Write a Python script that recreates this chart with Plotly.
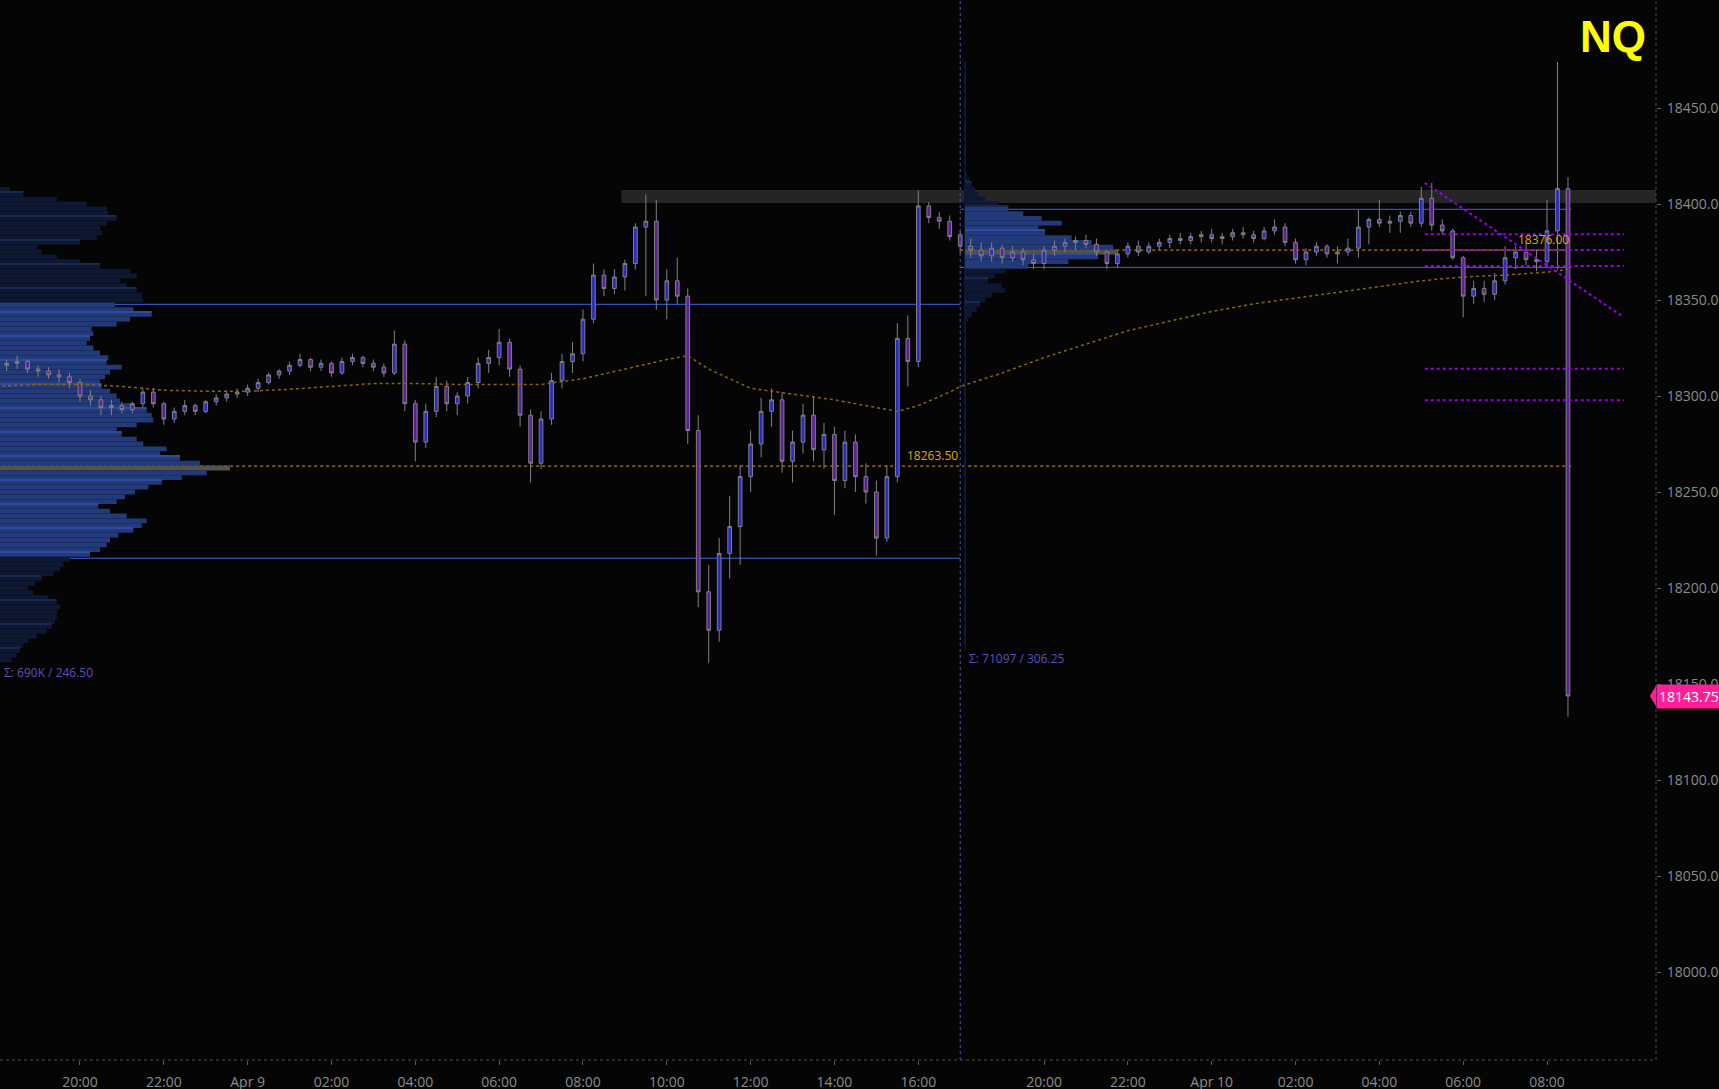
import pandas as pd
import plotly.graph_objects as go

# ---- 15 minute NQ bars ----
# session 1: Apr 8 18:00 -> Apr 9 16:45, session 2: Apr 9 18:00 -> Apr 10 08:30
s1_open = [18318, 18316, 18317, 18318, 18314, 18313, 18311, 18310,
           18307, 18300, 18298, 18294, 18295, 18293, 18296, 18302,
           18296, 18288, 18292, 18295, 18292, 18297, 18299, 18301,
           18302, 18304, 18307, 18311, 18313, 18316, 18319, 18315,
           18317, 18312, 18318, 18320, 18317, 18315, 18312, 18327,
           18296, 18276, 18292, 18305, 18296, 18300, 18307, 18317,
           18320, 18328, 18314, 18290, 18265, 18288, 18308, 18318,
           18322, 18340, 18363, 18356, 18362, 18369, 18388, 18391,
           18350, 18360, 18352, 18282, 18198, 18178, 18218, 18232,
           18258, 18275, 18292, 18298, 18266, 18276, 18290, 18272,
           18280, 18256, 18276, 18258, 18250, 18226, 18258, 18330,
           18318, 18399, 18393, 18391]
s1_high = [18320, 18319, 18321, 18319, 18316, 18315, 18314, 18312,
           18309, 18303, 18300, 18298, 18297, 18297, 18304, 18304,
           18297, 18294, 18298, 18296, 18298, 18301, 18303, 18304,
           18306, 18309, 18312, 18314, 18318, 18322, 18320, 18319,
           18318, 18320, 18322, 18321, 18319, 18317, 18334, 18329,
           18298, 18296, 18310, 18308, 18302, 18310, 18320, 18324,
           18335, 18330, 18316, 18293, 18292, 18312, 18322, 18328,
           18345, 18369, 18366, 18366, 18371, 18390, 18405, 18402,
           18366, 18372, 18356, 18290, 18212, 18226, 18248, 18264,
           18282, 18299, 18304, 18302, 18282, 18296, 18300, 18286,
           18284, 18282, 18280, 18265, 18256, 18264, 18338, 18342,
           18407, 18401, 18396, 18394]
s1_low = [18313, 18313, 18314, 18312, 18310, 18309, 18307, 18304,
          18297, 18295, 18290, 18290, 18291, 18291, 18294, 18294,
          18285, 18286, 18290, 18290, 18291, 18295, 18297, 18299,
          18300, 18302, 18306, 18309, 18311, 18315, 18313, 18313,
          18310, 18311, 18316, 18315, 18313, 18310, 18311, 18292,
          18266, 18273, 18289, 18292, 18290, 18296, 18304, 18312,
          18316, 18310, 18284, 18255, 18262, 18285, 18304, 18312,
          18318, 18338, 18352, 18353, 18355, 18366, 18352, 18345,
          18340, 18348, 18275, 18190, 18161, 18172, 18205, 18212,
          18250, 18268, 18284, 18260, 18255, 18270, 18266, 18262,
          18238, 18252, 18250, 18244, 18217, 18224, 18255, 18305,
          18315, 18390, 18387, 18381]
s1_close = [18316, 18317, 18318, 18314, 18313, 18311, 18310, 18307,
            18300, 18298, 18294, 18295, 18293, 18296, 18302, 18296,
            18288, 18292, 18295, 18292, 18297, 18299, 18301, 18302,
            18304, 18307, 18311, 18313, 18316, 18319, 18315, 18317,
            18312, 18318, 18320, 18317, 18315, 18312, 18327, 18296,
            18276, 18292, 18305, 18296, 18300, 18307, 18317, 18320,
            18328, 18314, 18290, 18265, 18288, 18308, 18318, 18322,
            18340, 18363, 18356, 18362, 18369, 18388, 18391, 18350,
            18360, 18352, 18282, 18198, 18178, 18218, 18232, 18258,
            18275, 18292, 18298, 18266, 18276, 18290, 18272, 18280,
            18256, 18276, 18258, 18250, 18226, 18258, 18330, 18318,
            18399, 18393, 18391, 18383]

s2_open = [18384, 18378, 18376, 18373, 18377, 18372, 18375, 18371,
           18369, 18376, 18378, 18380, 18381, 18379, 18375, 18369,
           18374, 18378, 18375, 18378, 18380, 18382, 18381, 18383,
           18384, 18382, 18383, 18385, 18384, 18382, 18386, 18388,
           18380, 18371, 18375, 18378, 18374, 18375, 18377, 18388,
           18392, 18390, 18391, 18394, 18390, 18403, 18389, 18386,
           18372, 18352, 18356, 18353, 18360, 18372, 18375, 18371,
           18370, 18386, 18408]
s2_high = [18386, 18382, 18380, 18380, 18379, 18378, 18377, 18374,
           18378, 18381, 18382, 18383, 18384, 18382, 18376, 18376,
           18380, 18381, 18380, 18382, 18384, 18385, 18385, 18386,
           18387, 18385, 18387, 18388, 18386, 18388, 18392, 18390,
           18382, 18377, 18380, 18379, 18378, 18382, 18397, 18393,
           18402, 18394, 18396, 18396, 18409, 18411, 18392, 18387,
           18373, 18360, 18360, 18364, 18378, 18378, 18380, 18376,
           18402, 18474, 18414]
s2_low = [18374, 18372, 18370, 18370, 18369, 18370, 18368, 18366,
          18366, 18373, 18375, 18376, 18377, 18373, 18366, 18367,
          18372, 18373, 18374, 18376, 18377, 18379, 18379, 18380,
          18380, 18379, 18381, 18382, 18380, 18381, 18384, 18378,
          18369, 18368, 18373, 18372, 18369, 18373, 18372, 18379,
          18388, 18385, 18385, 18388, 18388, 18386, 18384, 18371,
          18341, 18348, 18349, 18350, 18358, 18366, 18368, 18365,
          18368, 18366, 18133]
s2_close = [18378, 18376, 18373, 18377, 18372, 18375, 18371, 18369,
            18376, 18378, 18380, 18381, 18379, 18375, 18369, 18374,
            18378, 18375, 18378, 18380, 18382, 18381, 18383, 18384,
            18382, 18383, 18385, 18384, 18382, 18386, 18388, 18380,
            18371, 18375, 18378, 18374, 18375, 18377, 18388, 18392,
            18390, 18391, 18394, 18390, 18403, 18389, 18386, 18372,
            18352, 18356, 18353, 18360, 18372, 18375, 18371, 18370,
            18386, 18408, 18143.75]

# moving average (gold line)
ma_times = ["2024-04-08 18:00", "2024-04-08 19:00", "2024-04-08 20:00", "2024-04-08 21:00",
            "2024-04-08 22:00", "2024-04-08 23:00", "2024-04-09 00:00", "2024-04-09 01:00",
            "2024-04-09 02:00", "2024-04-09 03:00", "2024-04-09 04:00", "2024-04-09 05:00",
            "2024-04-09 06:00", "2024-04-09 07:00", "2024-04-09 08:00", "2024-04-09 09:00",
            "2024-04-09 10:00", "2024-04-09 10:30", "2024-04-09 11:00", "2024-04-09 12:00",
            "2024-04-09 13:00", "2024-04-09 14:00", "2024-04-09 15:00", "2024-04-09 15:30",
            "2024-04-09 16:00", "2024-04-09 16:45", "2024-04-09 18:00", "2024-04-09 19:00",
            "2024-04-09 20:00", "2024-04-09 21:00", "2024-04-09 22:00", "2024-04-09 23:00",
            "2024-04-10 00:00", "2024-04-10 01:00", "2024-04-10 02:00", "2024-04-10 03:00",
            "2024-04-10 04:00", "2024-04-10 05:00", "2024-04-10 06:00", "2024-04-10 07:00",
            "2024-04-10 08:00", "2024-04-10 08:30"]
ma_values = [18305, 18306, 18306, 18305, 18303, 18302.5, 18302.5, 18303.5,
             18305, 18306.5, 18306.5, 18306, 18306, 18306, 18309, 18314,
             18319, 18321, 18314, 18304, 18301, 18298, 18294, 18292,
             18295, 18302, 18305, 18312, 18320, 18327, 18334, 18339,
             18344, 18348, 18351, 18354, 18357, 18360, 18362, 18363,
             18364.5, 18366]

# volume profile, session 1 (2.5 pt rows from 18407.5 down)
left_top = 18407.5
left_vol = [660, 1540, 3740, 5720, 7040, 7150, 7700, 7040, 6600, 6710,
            6380, 5280, 2420, 2750, 3740, 5280, 6600, 8580, 9020, 7920,
            8360, 9020, 9350, 9460, 7590, 8800, 10010, 8580, 7700, 6050,
            6160, 5940, 5720, 6160, 6600, 7150, 7040, 8030, 7260, 6930,
            6600, 6710, 7260, 7700, 7920, 8800, 9680, 10010, 10120, 9020,
            7700, 8030, 9020, 9460, 11000, 10560, 11880, 13200, 15180, 13640,
            11990, 10670, 9790, 8910, 8250, 7700, 6490, 7260, 8360, 9680,
            9350, 8800, 7810, 7260, 7040, 6600, 5940, 4620, 4180, 3960,
            3520, 2750, 2310, 1870, 2200, 3190, 3740, 3960, 3780, 3740,
            3630, 3410, 3080, 2420, 1870, 1540, 1320, 1100, 770]
left_vah, left_poc, left_val = 18347.75, 18263.50, 18215.50

# volume profile, session 2 (2.5 pt rows from 18415 down)
right_top = 18415.0
right_vol = [75, 180, 300, 450, 600, 900, 1500, 1950, 2625, 3450,
             4350, 3300, 3600, 4800, 5700, 6675, 6825, 6000, 4650, 2850,
             1800, 1350, 1050, 1650, 1800, 1200, 900, 675, 525, 300, 150]
right_vah, right_poc, right_val = 18397.25, 18376.00, 18367.00

zone_low, zone_high = 18400.5, 18407.25
fib_levels = [18384.25, 18376.0, 18367.75, 18314.25, 18297.75]
trend_prices = [18411, 18341]

y_ticks = [18000, 18050, 18100, 18150, 18200, 18250, 18300, 18350, 18400, 18450]
tick_times = ["2024-04-08 20:00", "2024-04-08 22:00", "2024-04-09 00:00", "2024-04-09 02:00",
              "2024-04-09 04:00", "2024-04-09 06:00", "2024-04-09 08:00", "2024-04-09 10:00",
              "2024-04-09 12:00", "2024-04-09 14:00", "2024-04-09 16:00", "2024-04-09 20:00",
              "2024-04-09 22:00", "2024-04-10 00:00", "2024-04-10 02:00", "2024-04-10 04:00",
              "2024-04-10 06:00", "2024-04-10 08:00"]
tick_text = ["20:00", "22:00", "Apr 9", "02:00", "04:00", "06:00", "08:00", "10:00",
             "12:00", "14:00", "16:00", "20:00", "22:00", "Apr 10", "02:00", "04:00",
             "06:00", "08:00"]

s1_start, s2_start, now = "2024-04-08 18:00", "2024-04-09 18:00", "2024-04-10 08:35"
x_start, x_end = "2024-04-08 18:05:30", "2024-04-10 10:36"
zone_start = "2024-04-09 08:55"
fib_start, fib_end = "2024-04-10 05:05", "2024-04-10 09:50"

bar_times = list(pd.date_range(s1_start, "2024-04-09 16:45", freq="15min")) + \
    list(pd.date_range(s2_start, "2024-04-10 08:30", freq="15min"))
opens, highs = s1_open + s2_open, s1_high + s2_high
lows, closes = s1_low + s2_low, s1_close + s2_close

VA_BLUE, OUT_BLUE, POC_GREY = "#233a7a", "#0f1832", "#54524a"


def profile_colors(levels, vah, val, poc):
    cols = []
    for p in levels:
        if abs(p - poc) <= 1.25:
            cols.append(POC_GREY)
        elif val <= p <= vah + 0.3:
            cols.append(VA_BLUE)
        else:
            cols.append(OUT_BLUE)
    return cols


def stripe_colors(levels, vah, val):
    return ["#2f4c9c" if val <= p <= vah else "#1a2850" for p in levels]


left_levels = [left_top - 2.5 * i for i in range(len(left_vol))]
right_levels = [right_top - 2.5 * i for i in range(len(right_vol))]

fig = go.Figure()

fig.add_trace(go.Bar(
    y=left_levels, x=left_vol, orientation="h", width=2.5,
    marker=dict(color=profile_colors(left_levels, left_vah, left_val, left_poc), line=dict(width=0)),
    xaxis="x", yaxis="y", hoverinfo="skip"))
# thin lighter row separators inside the profile (every 5th row edge)
left_sep = left_levels[1::5]
fig.add_trace(go.Bar(
    y=[p + 1.25 for p in left_sep], x=left_vol[1::5], orientation="h", width=0.5,
    marker=dict(color=stripe_colors(left_sep, left_vah, left_val), line=dict(width=0)),
    xaxis="x", yaxis="y", hoverinfo="skip"))

fig.add_trace(go.Bar(
    y=right_levels, x=right_vol, orientation="h", width=2.5,
    marker=dict(color=profile_colors(right_levels, right_vah, right_val, right_poc), line=dict(width=0)),
    xaxis="x2", yaxis="y", hoverinfo="skip"))
right_sep = right_levels[2::5]
fig.add_trace(go.Bar(
    y=[p + 1.25 for p in right_sep], x=right_vol[2::5], orientation="h", width=0.5,
    marker=dict(color=stripe_colors(right_sep, right_vah, right_val), line=dict(width=0)),
    xaxis="x2", yaxis="y", hoverinfo="skip"))

fig.add_trace(go.Candlestick(
    x=bar_times, open=opens, high=highs, low=lows, close=closes,
    increasing=dict(line=dict(color="#808080", width=1), fillcolor="#2a2ac8"),
    decreasing=dict(line=dict(color="#808080", width=1), fillcolor="#5e1f9c"),
    whiskerwidth=0, xaxis="x3", yaxis="y", hoverinfo="skip"))

fig.add_trace(go.Scatter(
    x=ma_times, y=ma_values, mode="lines",
    line=dict(color="#8a6416", width=1.5, dash="dot"),
    xaxis="x3", yaxis="y", hoverinfo="skip"))

shapes = [
    dict(type="rect", xref="x3", yref="y", x0=zone_start, x1=x_end, y0=zone_low, y1=zone_high,
         fillcolor="rgba(70,70,70,0.5)", line=dict(width=0), layer="below"),
    dict(type="line", xref="x3", yref="y", x0=s1_start, x1=s2_start, y0=left_vah, y1=left_vah,
         line=dict(color="#3d62e0", width=1), layer="below"),
    dict(type="line", xref="x3", yref="y", x0=s1_start, x1=s2_start, y0=left_val, y1=left_val,
         line=dict(color="#3d62e0", width=1), layer="below"),
    dict(type="line", xref="x3", yref="y", x0=s1_start, x1=now, y0=left_poc, y1=left_poc,
         line=dict(color="#eb9b12", width=1, dash="dot"), layer="below"),
    dict(type="line", xref="x3", yref="y", x0=s2_start, x1=now, y0=right_vah, y1=right_vah,
         line=dict(color="#3d62e0", width=1), layer="below"),
    dict(type="line", xref="x3", yref="y", x0=s2_start, x1=now, y0=right_val, y1=right_val,
         line=dict(color="#3d62e0", width=1), layer="below"),
    dict(type="line", xref="x3", yref="y", x0=s2_start, x1=now, y0=right_poc, y1=right_poc,
         line=dict(color="#eb9b12", width=1, dash="dot"), layer="below"),
    dict(type="line", xref="x2", yref="y", x0=0, x1=0, y0=18168, y1=18474.25,
         line=dict(color="#101830", width=2), layer="below"),
    dict(type="line", xref="x3", yref="paper", x0=s2_start, x1=s2_start, y0=0, y1=1,
         line=dict(color="#4a4ad6", width=1, dash="dot")),
    dict(type="line", xref="x3", yref="y", x0=fib_start, x1=fib_end, y0=trend_prices[0], y1=trend_prices[1],
         line=dict(color="#9300ee", width=2, dash="dot")),
    # dotted axis lines
    dict(type="line", xref="paper", yref="paper", x0=1, x1=1, y0=0, y1=1,
         line=dict(color="#4a4a4a", width=1, dash="dot")),
    dict(type="line", xref="paper", yref="paper", x0=0, x1=1, y0=0, y1=0,
         line=dict(color="#4a4a4a", width=1, dash="dot")),
    # pointer of the last price tag
    dict(type="path", xref="paper", yref="y",
         path=f"M 1 {closes[-1] + 5.4} L 0.9963 {closes[-1]} L 1 {closes[-1] - 5.4} Z",
         fillcolor="#ff1f96", line=dict(width=0)),
]
for lvl in fib_levels:
    shapes.append(dict(type="line", xref="x3", yref="y", x0=fib_start, x1=fib_end, y0=lvl, y1=lvl,
                       line=dict(color="#9300ee", width=2, dash="dot")))

annotations = [
    dict(text="<b>NQ</b>", xref="paper", yref="paper", x=0.974, y=0.966, xanchor="center",
         yanchor="middle", showarrow=False,
         font=dict(family="Liberation Sans, Arial", size=44, color="#ffff00")),
    dict(text=f"{closes[-1]:.2f}", xref="paper", yref="y", x=1, y=closes[-1], xanchor="left",
         yanchor="middle", showarrow=False, bgcolor="#ff1f96", borderpad=2,
         font=dict(color="white", size=14)),
    dict(text="Σ: 690K / 246.50", xref="x", yref="y", x=0, y=18156, xanchor="left", xshift=2,
         yanchor="middle", showarrow=False, font=dict(color="#5a4ebc", size=12)),
    dict(text="Σ: 71097 / 306.25", xref="x2", yref="y", x=0, y=18163.5, xanchor="left", xshift=2,
         yanchor="middle", showarrow=False, font=dict(color="#5a4ebc", size=12)),
    dict(text=f"{left_poc:.2f}", xref="x3", yref="y", x=s2_start, y=left_poc, xanchor="right",
         yanchor="bottom", showarrow=False, font=dict(color="#e0a418", size=12)),
    dict(text=f"{right_poc:.2f}", xref="x3", yref="y", x=now, y=right_poc, xanchor="right",
         yanchor="bottom", showarrow=False, font=dict(color="#e0a418", size=12)),
]

fig.update_layout(
    width=1719, height=1089,
    margin=dict(l=0, r=63, t=0, b=29),
    paper_bgcolor="#050505", plot_bgcolor="#050505",
    font=dict(family="Open Sans, Noto Sans, sans-serif"),
    showlegend=False, barmode="overlay", boxgap=0.5,
    xaxis=dict(range=[0, 109296], visible=False, fixedrange=True),
    xaxis2=dict(range=[-43425, 31095], overlaying="x", anchor="y", visible=False),
    xaxis3=dict(type="date", overlaying="x", anchor="y", side="bottom", automargin=False,
                range=[x_start, x_end], rangebreaks=[dict(bounds=[17, 18], pattern="hour")],
                tickvals=tick_times, ticktext=tick_text, showgrid=False, zeroline=False,
                showline=False, ticks="outside", ticklen=4, tickcolor="#5a5a5a",
                ticklabelstandoff=5, tickfont=dict(color="#8c8c8c", size=14),
                rangeslider=dict(visible=False)),
    yaxis=dict(range=[17954.17, 18506.25], side="right", tickvals=y_ticks, tickformat=".2f",
               automargin=False, showgrid=False, zeroline=False, showline=False,
               ticks="outside", ticklen=4, tickcolor="#5a5a5a", ticklabelstandoff=3,
               tickfont=dict(color="#8c8c8c", size=14)),
    shapes=shapes,
    annotations=annotations,
)

# the page body margin would shift the chart; remove it so the figure fills the window
fig.write_html("out.html", config={"displayModeBar": False},
               post_script="document.body.style.margin='0';document.body.style.overflow='hidden';")
